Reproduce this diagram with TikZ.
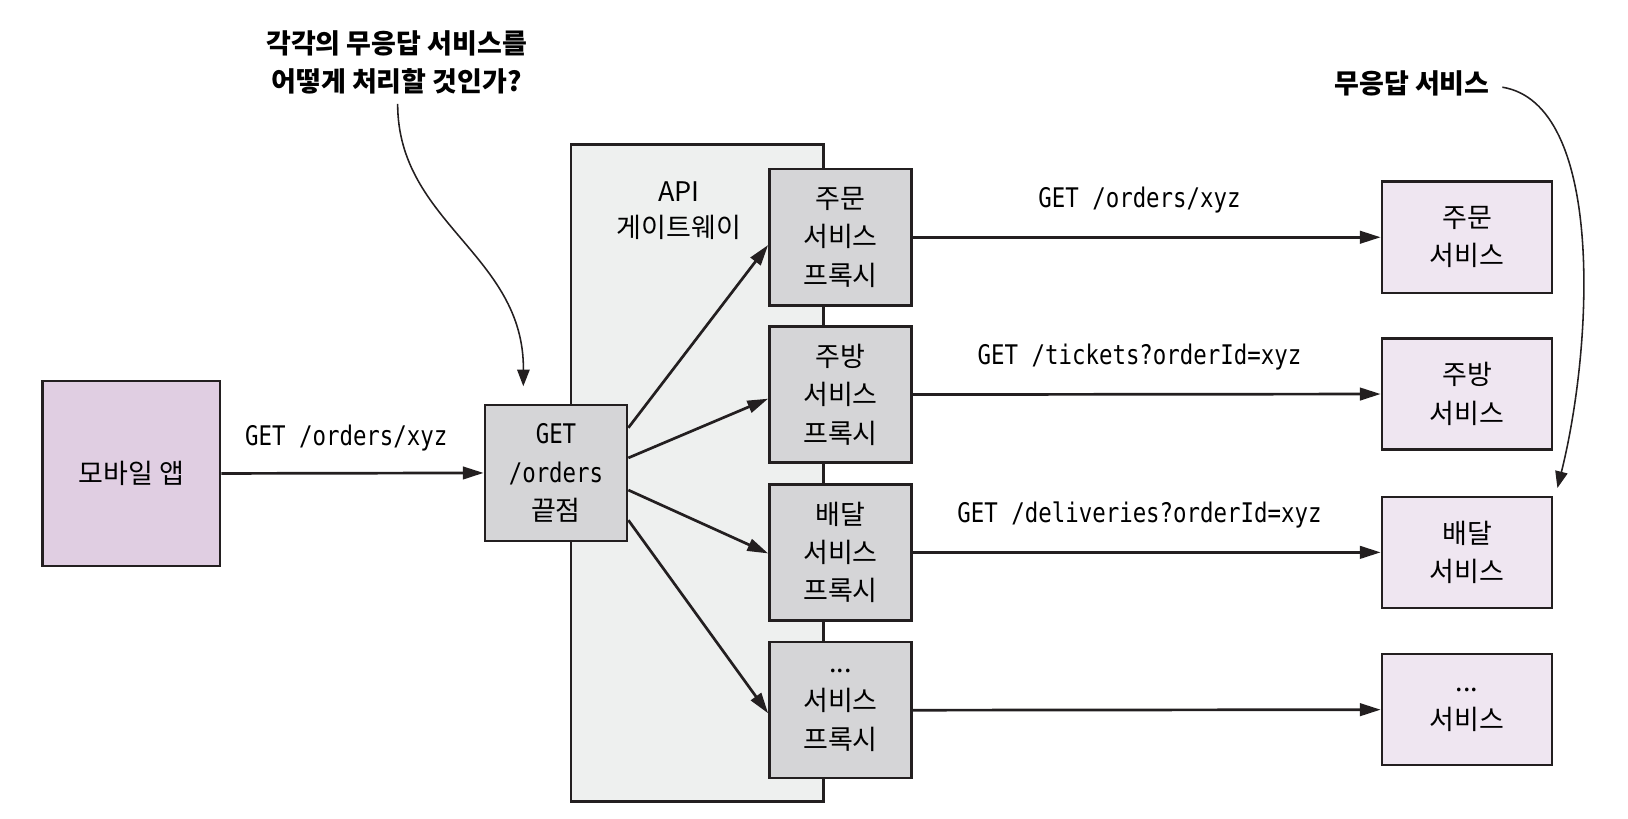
\documentclass[tikz,border=0pt]{standalone}
\usepackage{fontspec}
\setmainfont{Noto Sans CJK KR}
\newfontfamily\mono[FakeStretch=0.83]{DejaVu Sans Mono}
\usetikzlibrary{arrows.meta}
\definecolor{ink}{HTML}{231F20}
\definecolor{mobfill}{HTML}{E0CEE2}
\definecolor{svcfill}{HTML}{EFE6F1}
\definecolor{grayfill}{HTML}{D5D5D7}
\definecolor{gwfill}{HTML}{EEF0EF}
\begin{document}
\begin{tikzpicture}[x=1pt,y=-1pt,
  kfont/.style={font=\fontsize{26}{37}\selectfont},
  box/.style={draw=ink, line width=2.4pt, inner sep=0pt, align=center, kfont},
  mobile/.style={box, fill=mobfill, minimum width=171pt, minimum height=178pt},
  endpoint/.style={box, fill=grayfill, minimum width=137pt, minimum height=131pt},
  proxy/.style={box, fill=grayfill, minimum width=137pt, minimum height=131pt},
  svc/.style={box, fill=svcfill, minimum width=164pt, minimum height=107pt},
  gateway/.style={draw=ink, line width=2.4pt, fill=gwfill, minimum width=243pt, minimum height=633pt, inner sep=0pt},
  lbl/.style={font=\mono\fontsize{26}{30}\selectfont, inner sep=0pt},
  note/.style={font=\bfseries\fontsize{26}{36}\selectfont, align=center, inner sep=0pt},
  arr/.style={draw=ink, line width=2.6pt, -{Triangle[length=20pt,width=12pt]}},
  notearr/.style={draw=ink, line width=1.5pt, -{Triangle[length=16pt,width=12pt]}},
]
\useasboundingbox (0,0) rectangle (1568,788);

% gateway
\node[gateway] (gw) at (671.5,455.5) {};
\node[align=center, inner sep=0pt, font=\fontsize{26}{35}\selectfont] (gwl) at (654,203) {API\\게이트웨이};

% mobile and endpoint
\node[mobile] (m) at (126.5,456) {모바일 앱};
\node[endpoint] (e) at (535.5,455.5) {{\mono\fontsize{26}{37}\selectfont GET}\\{\mono\fontsize{26}{37}\selectfont /orders}\\끝점};

% proxies
\node[proxy] (p1) at (809.5,228.5) {주문\\서비스\\프록시};
\node[proxy] (p2) at (809.5,380) {주방\\서비스\\프록시};
\node[proxy] (p3) at (809.5,532) {배달\\서비스\\프록시};
\node[proxy] (p4) at (809.5,684) {...\\서비스\\프록시};

% services
\node[svc] (s1) at (1413,228.5) {주문\\서비스};
\node[svc] (s2) at (1413,379.5) {주방\\서비스};
\node[svc] (s3) at (1413,532) {배달\\서비스};
\node[svc] (s4) at (1413,683.5) {...\\서비스};

% arrows
\draw[arr] (m.east) -- node[lbl, yshift=34pt, xshift=-6pt] {GET /orders/xyz} (e.west);

\draw[arr] ([yshift=43.5pt]e.east) -- ([yshift=-7.5pt]p1.west);
\draw[arr] ([yshift=14.5pt]e.east) -- ([yshift=-4pt]p2.west);
\draw[arr] ([yshift=-16.5pt]e.east) -- ([yshift=-1pt]p3.west);
\draw[arr] ([yshift=-45.5pt]e.east) -- ([yshift=-3pt]p4.west);

\draw[arr] (p1.east) -- node[lbl, yshift=36pt, xshift=-7pt] {GET /orders/xyz} (s1.west);
\draw[arr] (p2.east) -- node[lbl, yshift=36pt, xshift=-7pt] {GET /tickets?orderId=xyz} (s2.west);
\draw[arr] (p3.east) -- node[lbl, yshift=36pt, xshift=-7pt] {GET /deliveries?orderId=xyz} (s3.west);
\draw[arr] (p4.east) -- (s4.west);

% annotations
\node[note] (q) at (382,60) {각각의 무응답 서비스를\\어떻게 처리할 것인가?};
\coordinate (qs) at (383,100);
\coordinate (qe) at (504,372);
\draw[notearr] (qs) .. controls (383,215) and (505,245) .. (qe);

\node[note] (nr) at (1360,80) {무응답 서비스};
\coordinate (ns) at (1447,84);
\coordinate (ne) at (1500,470);
\draw[notearr] (ns) .. controls (1545,100) and (1535,330) .. (ne);
\end{tikzpicture}
\end{document}
